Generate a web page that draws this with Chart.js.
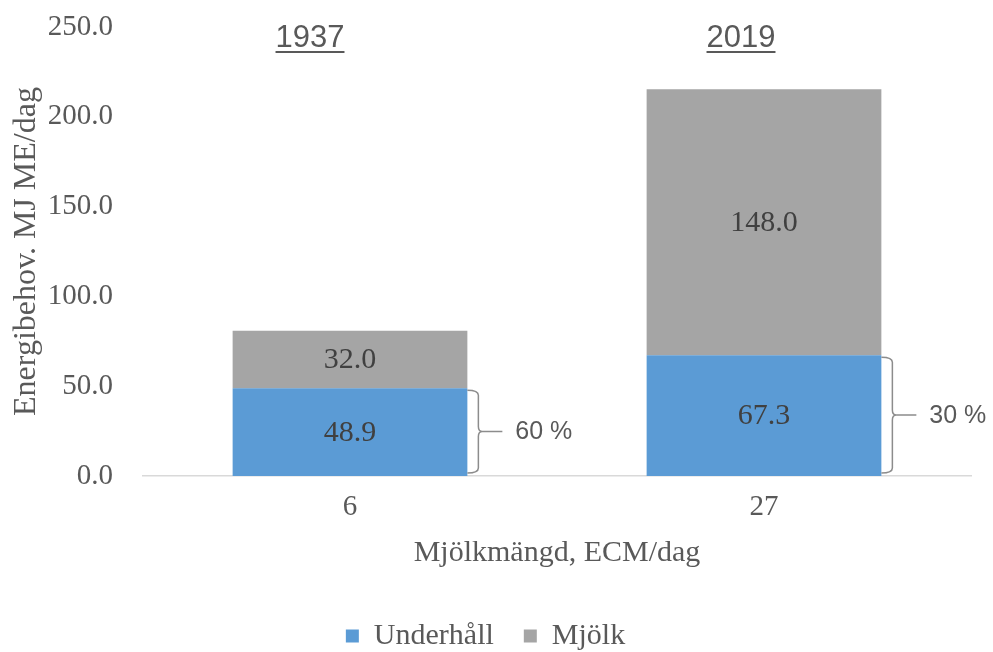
<!DOCTYPE html>
<html>
<head>
<meta charset="utf-8">
<script src="https://cdn.jsdelivr.net/npm/chart.js@4"></script>
<style>
    html, body { margin: 0; padding: 0; background: #fff; }
    #wrap { width: 993px; height: 652px; }
</style>
</head>
<body>
<div id="wrap"><canvas id="energyChart" width="993" height="652"></canvas></div>
<script>
// Chart data
var milkAmounts = ['6', '27'];
var maintenance = [48.9, 67.3];
var milk = [32.0, 148.0];
var years = ['1937', '2019'];
var maintenanceShare = ['60 %', '30 %'];

var serif = '"Liberation Serif", "Times New Roman", serif';
var sans = '"Liberation Sans", Arial, sans-serif';
var textColor = '#595959';

// Value labels inside each bar segment
var valueLabels = {
    id: 'valueLabels',
    afterDatasetsDraw: function (chart) {
        var ctx = chart.ctx;
        ctx.save();
        ctx.font = '30px ' + serif;
        ctx.fillStyle = '#404040';
        ctx.textAlign = 'center';
        ctx.textBaseline = 'middle';
        chart.data.datasets.forEach(function (ds, i) {
            chart.getDatasetMeta(i).data.forEach(function (bar, j) {
                ctx.fillText(ds.data[j].toFixed(1), bar.x, (bar.y + bar.base) / 2 + 1);
            });
        });
        ctx.restore();
    }
};

// Year headings and braces with share of maintenance
var annotations = {
    id: 'annotations',
    afterDraw: function (chart) {
        var ctx = chart.ctx;
        var meta = chart.getDatasetMeta(0);
        var yearShift = [-40, -23];
        ctx.save();
        meta.data.forEach(function (bar, j) {
            // year heading
            ctx.font = '31px ' + sans;
            ctx.fillStyle = textColor;
            ctx.textAlign = 'center';
            ctx.textBaseline = 'middle';
            var tx = bar.x + yearShift[j];
            ctx.fillText(years[j], tx, 38);
            var w = ctx.measureText(years[j]).width;
            ctx.fillRect(tx - w / 2, 51, w, 2);

            // brace
            var right = bar.x + bar.width / 2;
            var top = bar.y + 2;
            var bottom = bar.base - 3;
            var mid = (top + bottom) / 2;
            var sx = right + 11;
            ctx.strokeStyle = '#8c8c8c';
            ctx.lineWidth = 1.5;
            ctx.beginPath();
            ctx.moveTo(right, top);
            ctx.quadraticCurveTo(sx, top, sx, top + 5);
            ctx.lineTo(sx, mid - 5);
            ctx.quadraticCurveTo(sx, mid, sx + 4, mid);
            ctx.quadraticCurveTo(sx, mid, sx, mid + 5);
            ctx.lineTo(sx, bottom - 5);
            ctx.quadraticCurveTo(sx, bottom, right, bottom);
            ctx.moveTo(sx + 4, mid);
            ctx.lineTo(right + 35, mid);
            ctx.stroke();

            ctx.font = '25px ' + sans;
            ctx.textAlign = 'left';
            ctx.fillText(maintenanceShare[j], right + 48, mid + 1);
        });
        ctx.restore();
    }
};

var ctx = document.getElementById('energyChart').getContext('2d');
var energyChart = new Chart(ctx, {
    type: 'bar',
    data: {
        labels: milkAmounts,
        datasets: [{
            label: 'Underhåll',
            data: maintenance,
            backgroundColor: '#5B9BD5',
            barPercentage: 0.567,
            categoryPercentage: 1
        }, {
            label: 'Mjölk',
            data: milk,
            backgroundColor: '#A5A5A5',
            barPercentage: 0.567,
            categoryPercentage: 1
        }]
    },
    options: {
        responsive: false,
        animation: false,
        layout: { padding: { top: 27, right: 22, left: 0, bottom: 0 } },
        plugins: {
            legend: {
                position: 'bottom',
                maxHeight: 61,
                labels: {
                    boxWidth: 13,
                    boxHeight: 13,
                    padding: 30,
                    color: textColor,
                    font: { family: serif, size: 30 }
                }
            },
            tooltip: { enabled: false }
        },
        scales: {
            x: {
                stacked: true,
                grid: { display: false, drawTicks: false },
                border: { display: true, color: '#d9d9d9', width: 1.5 },
                ticks: { color: textColor, padding: 14, font: { family: serif, size: 29 } },
                title: {
                    display: true,
                    text: 'Mjölkmängd, ECM/dag',
                    color: textColor,
                    font: { family: serif, size: 30 },
                    padding: { top: 4, bottom: 20 }
                },
                afterFit: function (scale) {
                    scale.height = 115;
                    scale.paddingLeft = 0;
                    scale.paddingRight = 0;
                }
            },
            y: {
                stacked: true,
                min: 0,
                max: 250,
                grid: { display: false, drawTicks: false },
                border: { display: false },
                ticks: {
                    stepSize: 50,
                    color: textColor,
                    padding: 30,
                    font: { family: serif, size: 29 },
                    callback: function (v) { return v.toFixed(1); }
                },
                title: {
                    display: true,
                    text: 'Energibehov. MJ ME/dag',
                    color: textColor,
                    font: { family: serif, size: 32 },
                    padding: { top: 7, bottom: 4 }
                },
                afterFit: function (scale) {
                    scale.width = 143;
                    scale.paddingTop = 0;
                    scale.paddingBottom = 0;
                }
            }
        }
    },
    plugins: [valueLabels, annotations]
});
</script>
</body>
</html>
